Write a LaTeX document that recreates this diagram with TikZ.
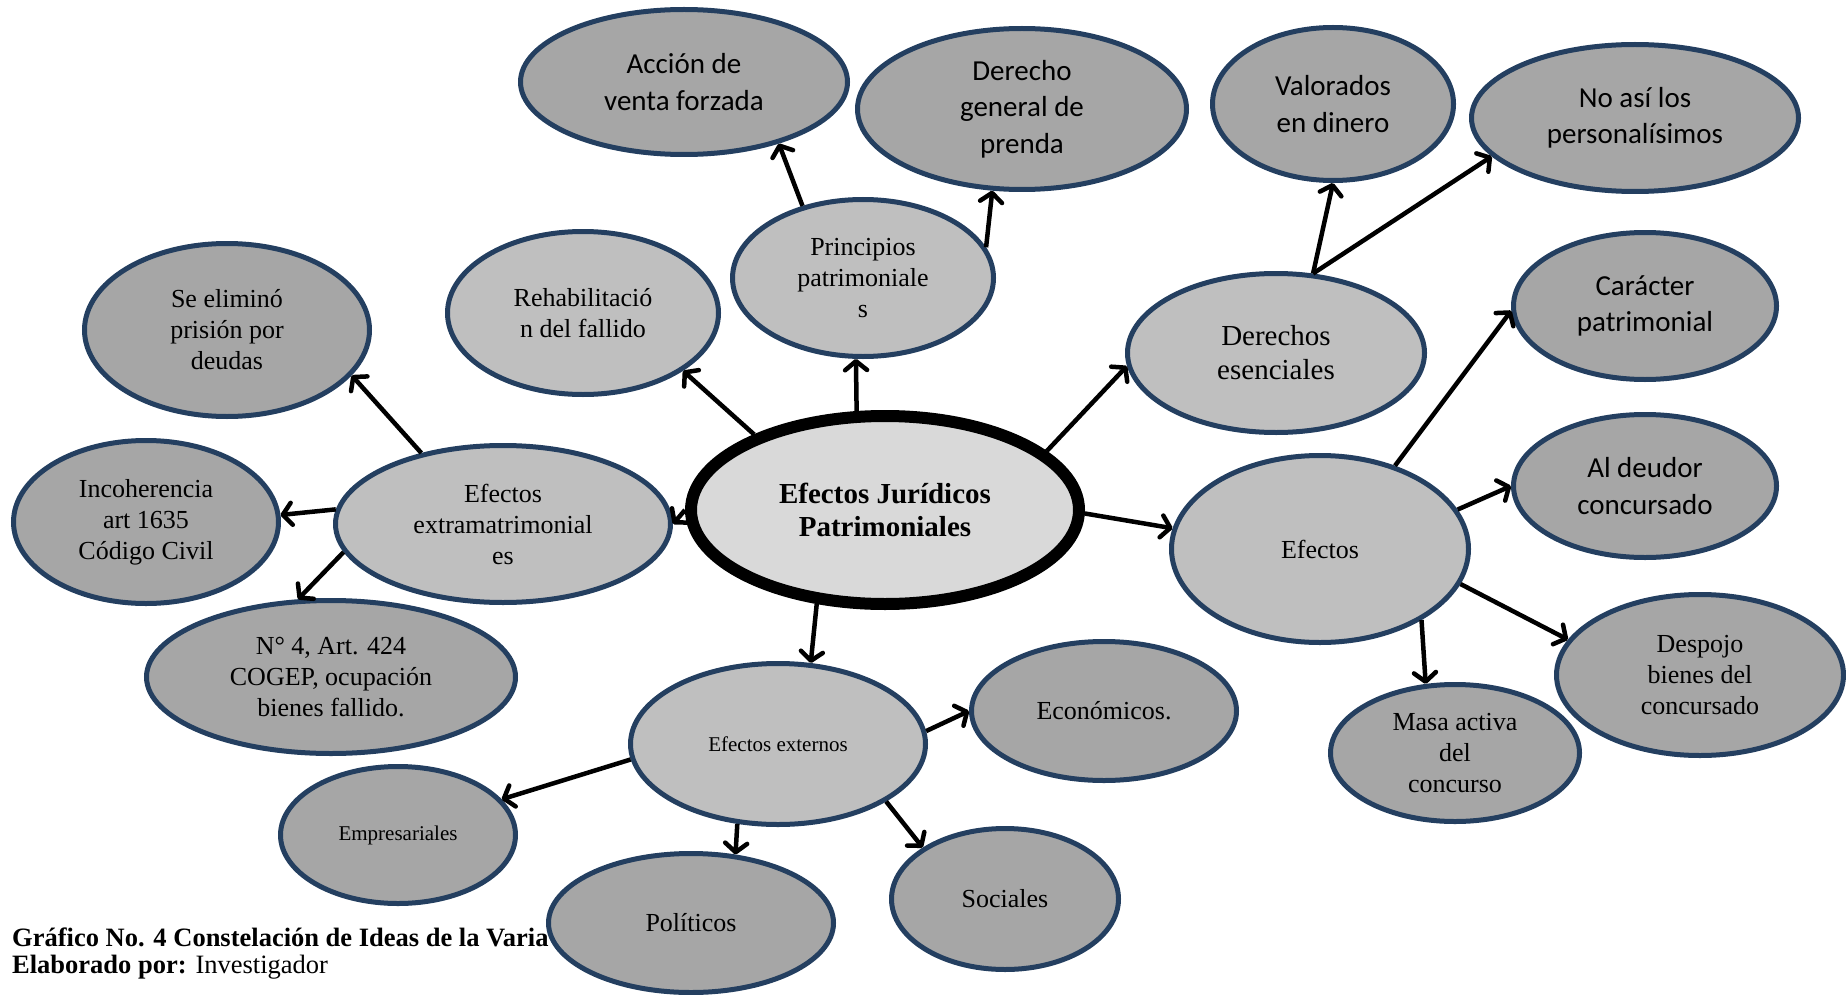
\documentclass[tikz,border=0pt]{standalone}
\usepackage{fontspec}
\setmainfont{Liberation Serif}
\newfontfamily\calibrifont{Carlito}
\usetikzlibrary{shapes.geometric}
\usetikzlibrary{arrows.meta}
\definecolor{bordeazul}{HTML}{243F60}
\definecolor{grisoscuro}{HTML}{A6A6A6}
\definecolor{grismedio}{HTML}{BFBFBF}
\definecolor{grisclaro}{HTML}{D9D9D9}
\tikzset{idea/.style={ellipse,draw=bordeazul,line width=5pt,inner sep=0pt,align=center,fill=grisoscuro,font=\fontsize{26}{31}\selectfont}}
\tikzset{ramal/.style={idea,fill=grismedio}}
\tikzset{sans/.style={font=\calibrifont\fontsize{29}{36.5}\selectfont}}
\tikzset{flecha/.style={->,line width=4.5pt}}
\tikzset{>={Straight Barb[length=9pt,width=22pt,round]}}

\begin{document}
\begin{tikzpicture}[x=1pt,y=-1pt]
        \useasboundingbox (0,0) rectangle (1846,995);

        % pie del grafico
        \node[anchor=west,inner sep=0pt,font=\fontsize{26.5}{29}\selectfont] (titulo) at (12,937) {\textbf{Gráfico No. 4 Constelación de Ideas de la Varia}};
        \node[anchor=west,inner sep=0pt,font=\fontsize{26.5}{29}\selectfont] (autor) at (12,967) {\textbf{Elaborado por:} Investigador};

        % centro
        \node[idea,line width=12pt,draw=black,fill=grisclaro,minimum width=388pt,minimum height=188pt,font=\bfseries\fontsize{29}{33}\selectfont] (cen) at (885,510) {Efectos Jurídicos\\Patrimoniales};

        % arriba
        \node[ramal,minimum width=261pt,minimum height=157pt] (pri) at (863,278) {Principios\\patrimoniale\\s};
        \node[idea,sans,minimum width=327pt,minimum height=145pt] (acc) at (684,82) {Acción de\\venta forzada};
        \node[idea,sans,minimum width=329pt,minimum height=161pt] (dgp) at (1022,109) {Derecho\\general de\\prenda};
        \node[ramal,minimum width=271pt,minimum height=163pt] (reh) at (583,313) {Rehabilitació\\n del fallido};

        % izquierda
        \node[ramal,minimum width=335pt,minimum height=157pt] (ext) at (503,524) {Efectos\\extramatrimonial\\es};
        \node[idea,minimum width=285pt,minimum height=173pt] (sel) at (227,330) {Se eliminó\\prisión por\\deudas};
        \node[idea,minimum width=265pt,minimum height=163pt] (inc) at (146,522) {Incoherencia\\art 1635\\Código Civil};
        \node[idea,minimum width=369pt,minimum height=153pt] (nro) at (331,677) {N° 4, Art. 424\\COGEP, ocupación\\bienes fallido.};

        % abajo
        \node[ramal,minimum width=295pt,minimum height=161pt,font=\fontsize{21}{25}\selectfont] (eex) at (778,744) {Efectos externos};
        \node[idea,minimum width=235pt,minimum height=137pt,font=\fontsize{21}{25}\selectfont] (emp) at (398,835) {Empresariales};
        \node[idea,minimum width=285pt,minimum height=139pt] (pol) at (691,923) {Políticos};
        \node[idea,minimum width=227pt,minimum height=141pt] (soc) at (1005,899) {Sociales};
        \node[idea,minimum width=265pt,minimum height=139pt] (eco) at (1104,711) {Económicos.};

        % derecha
        \node[ramal,minimum width=297pt,minimum height=159pt,font=\fontsize{29}{34}\selectfont] (der) at (1276,353) {Derechos\\esenciales};
        \node[idea,sans,minimum width=241pt,minimum height=153pt] (val) at (1333,104) {Valorados\\en dinero};
        \node[idea,sans,minimum width=327pt,minimum height=147pt] (noa) at (1635,118) {No así los\\personalísimos};
        \node[ramal,minimum width=297pt,minimum height=187pt] (efe) at (1320,549) {Efectos};
        \node[idea,sans,minimum width=263pt,minimum height=147pt] (car) at (1645,306) {Carácter\\patrimonial};
        \node[idea,sans,minimum width=263pt,minimum height=143pt] (ald) at (1645,486) {Al deudor\\concursado};
        \node[idea,minimum width=287pt,minimum height=161pt] (des) at (1700,675) {Despojo\\bienes del\\concursado};
        \node[idea,minimum width=249pt,minimum height=137pt] (mas) at (1455,753) {Masa activa\\del\\concurso};

        % flechas
        \draw[flecha] (cen.106) -- (pri.265);
        \draw[flecha] (cen.150) -- (reh.330);
        \draw[flecha] (cen.west) -- (ext.east);
        \draw[flecha] (cen.234) -- (eex.68);
        \draw[flecha] (cen.20) -- (der.185);
        \draw[flecha] (cen.359) -- (efe.172);
        \draw[flecha] (pri.130) -- (acc.327);
        \draw[flecha] (pri.14) -- (dgp.250);
        \draw[flecha] (ext.139) -- (sel.340);
        \draw[flecha] (ext.175) -- (inc.3);
        \draw[flecha] (ext.190) -- (nro.113);
        \draw[flecha] (eex.186) -- (emp.19);
        \draw[flecha] (eex.243) -- (pol.57);
        \draw[flecha] (eex.332) -- (soc.148);
        \draw[flecha] (eex.5) -- (eco.180);
        \draw[flecha] (der.65) -- (val.270);
        \draw[flecha] (der.65) -- (noa.195);
        \draw[flecha] (efe.48) -- (car.182);
        \draw[flecha] (efe.16) -- (ald.180);
        \draw[flecha] (efe.346) -- (des.165);
        \draw[flecha] (efe.325) -- (mas.113);
\end{tikzpicture}
\end{document}
